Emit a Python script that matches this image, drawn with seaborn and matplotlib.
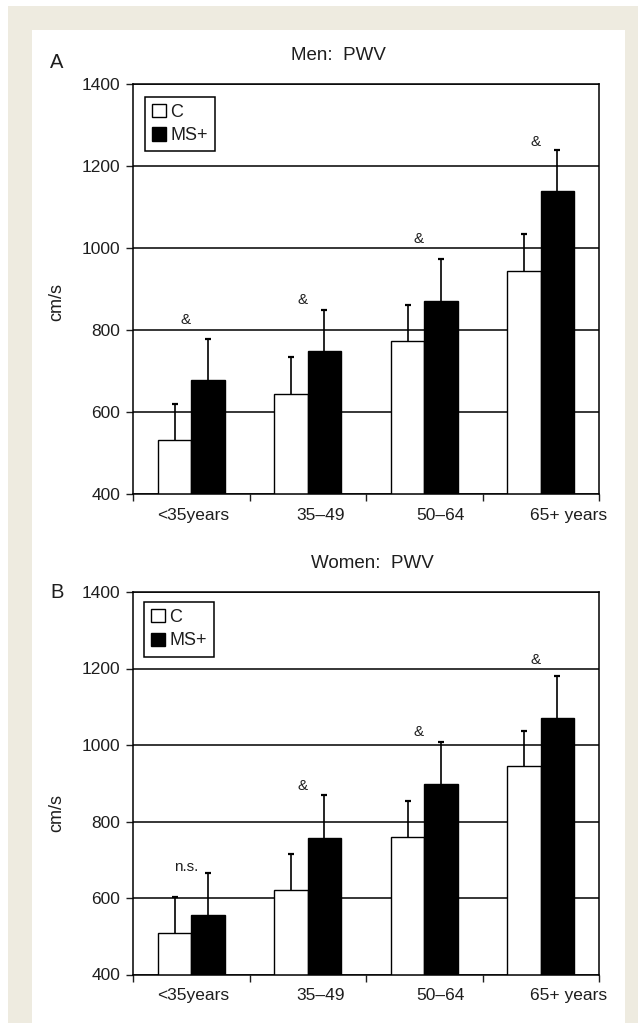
import numpy as np
import pandas as pd
import matplotlib
matplotlib.use("Agg")
import matplotlib.pyplot as plt
from matplotlib.patches import Rectangle
from matplotlib.transforms import ScaledTranslation
import seaborn as sns

# Datos (PWV en cm/s)
edades = ["<35years", "35\u201349", "50\u201364", "65+ years"]
grupos = ["C", "MS+"]

# Hombres
hombres_c = [532, 645, 772, 943]
hombres_ms = [677, 749, 870, 1138]
hombres_c_sd = [87, 90, 90, 90]
hombres_ms_sd = [102, 101, 102, 101]
hombres_marcas = ["&", "&", "&", "&"]
hombres_marcas_y = [824, 872, 1023, 1258]

# Mujeres
mujeres_c = [509, 622, 760, 944]
mujeres_ms = [556, 758, 898, 1070]
mujeres_c_sd = [94, 94, 94, 93]
mujeres_ms_sd = [110, 110, 109, 111]
mujeres_marcas = ["n.s.", "&", "&", "&"]
mujeres_marcas_y = [681, 893, 1035, 1221]

sns.set_style("white")
plt.rcParams["font.family"] = ["Liberation Sans", "DejaVu Sans"]
plt.rcParams["text.color"] = "#1e1e1e"
plt.rcParams["axes.labelcolor"] = "#1e1e1e"
plt.rcParams["xtick.color"] = "#1e1e1e"
plt.rcParams["ytick.color"] = "#1e1e1e"

fig = plt.figure(figsize=(6.38, 10.23), dpi=100)
fig.patch.set_facecolor("white")

# marco beige y panel blanco
fig.patches.append(Rectangle((8 / 638, 0), 1, 1017 / 1023, transform=fig.transFigure,
                             facecolor="#eeebe0", edgecolor="none", zorder=-3))
fig.patches.append(Rectangle((32 / 638, 0), 593 / 638, 993 / 1023, transform=fig.transFigure,
                             facecolor="white", edgecolor="none", zorder=-2))

# desplazamiento de las etiquetas del eje x (pixeles)
desplaz_x = [2, 13, 16, 28]


def panel(ax, c, ms, c_sd, ms_sd, marcas, marcas_y, leg_anchor, ylab_y):
    df = pd.DataFrame({
        "edad": edades * 2,
        "grupo": ["C"] * len(edades) + ["MS+"] * len(edades),
        "pwv": c + ms,
    })
    sns.barplot(
        data=df, x="edad", y="pwv", hue="grupo",
        order=edades, hue_order=grupos,
        palette={"C": "white", "MS+": "black"},
        edgecolor="black", linewidth=1, width=0.575,
        errorbar=None, saturation=1, ax=ax,
    )

    # barras de error solo hacia arriba
    for cont, sd in zip(ax.containers, [c_sd, ms_sd]):
        xs = [b.get_x() + b.get_width() / 2 for b in cont]
        hs = [b.get_height() for b in cont]
        _, caps, _ = ax.errorbar(xs, hs, yerr=[np.zeros(len(sd)), sd], fmt="none",
                                 ecolor="black", elinewidth=1.2, capsize=2.5,
                                 capthick=1.6, zorder=3)
        caps[0].set_visible(False)  # sin tapa en la parte superior de la barra

    for i, (m, y) in enumerate(zip(marcas, marcas_y)):
        ax.text(i - 0.045, y, m, ha="center", va="center", fontsize=11)

    ax.set_ylim(400, 1400)
    ax.set_xlim(-0.5, 3.5)
    ax.set_yticks(range(400, 1401, 200))
    ax.set_axisbelow(True)
    ax.yaxis.grid(True, color="black", linewidth=1.1)
    ax.xaxis.grid(False)
    for s in ax.spines.values():
        s.set_visible(True)
        s.set_color("black")
        s.set_linewidth(1.1)

    ax.tick_params(axis="y", direction="out", length=5, width=1,
                   pad=4, labelsize=12.5, left=True)
    ax.set_xticks(range(len(edades)))
    ax.set_xticklabels(edades)
    ax.set_xticks([-0.5, 0.5, 1.5, 2.5, 3.5], minor=True)
    ax.tick_params(axis="x", which="major", length=0, pad=10, labelsize=12.5)
    ax.tick_params(axis="x", which="minor", length=5, width=1,
                   direction="out", bottom=True)
    for lbl, dx in zip(ax.get_xticklabels(), desplaz_x):
        lbl.set_transform(lbl.get_transform()
                          + ScaledTranslation(dx / 100, 0, fig.dpi_scale_trans))

    ax.set_xlabel("")
    ax.set_ylabel("cm/s", fontsize=13)
    ax.yaxis.set_label_coords(-0.146, ylab_y)

    handles, labels = ax.get_legend_handles_labels()
    leg = ax.legend(handles, labels, loc="upper left", bbox_to_anchor=leg_anchor,
                    borderaxespad=0, frameon=True, fancybox=False,
                    edgecolor="black", framealpha=1, handlelength=0.75,
                    handleheight=0.75, handletextpad=0.25, labelspacing=0.35,
                    borderpad=0.4, fontsize=13)
    leg.get_frame().set_linewidth(1.1)


# =========================
# A: HOMBRES
# =========================
ax_a = fig.add_axes([133 / 638, (1023 - 494) / 1023, 466 / 638, 410 / 1023])
panel(ax_a, hombres_c, hombres_ms, hombres_c_sd, hombres_ms_sd,
      hombres_marcas, hombres_marcas_y, (0.026, 0.969), 0.468)

# =========================
# B: MUJERES
# =========================
ax_b = fig.add_axes([133 / 638, (1023 - 974.5) / 1023, 466 / 638, 382.5 / 1023])
panel(ax_b, mujeres_c, mujeres_ms, mujeres_c_sd, mujeres_ms_sd,
      mujeres_marcas, mujeres_marcas_y, (0.024, 0.974), 0.422)

fig.text(338 / 638, 1 - 55 / 1023, "Men:  PWV", ha="center", va="center", fontsize=13.5)
fig.text(372 / 638, 1 - 563 / 1023, "Women:  PWV", ha="center", va="center", fontsize=13.5)
fig.text(57 / 638, 1 - 63 / 1023, "A", ha="center", va="center", fontsize=14.5)
fig.text(57 / 638, 1 - 592 / 1023, "B", ha="center", va="center", fontsize=14.5)

fig.savefig("out.png", dpi=100)
